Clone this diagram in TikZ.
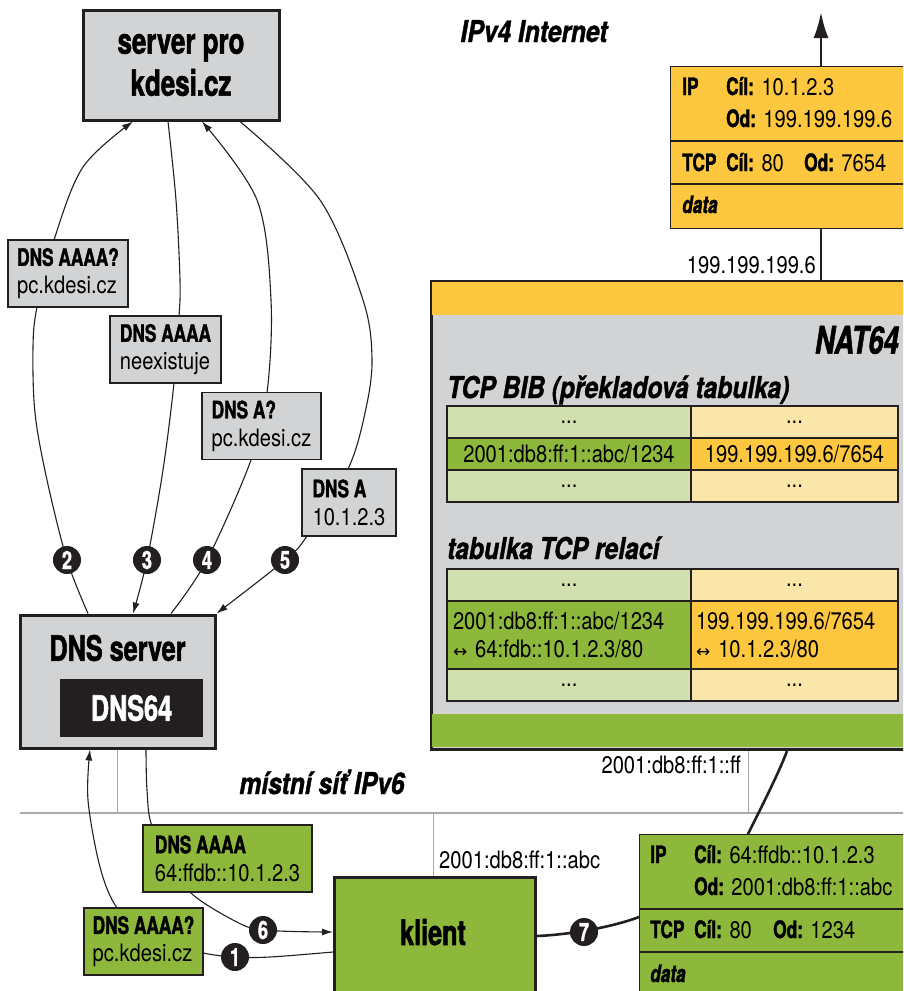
\documentclass[tikz,border=0pt]{standalone}
\usepackage{fontspec}
\setmainfont{TeX Gyre Heros}[FakeStretch=0.84]
\newfontfamily\cb{TeX Gyre Heros}[FakeStretch=0.72,FakeBold=1.5]
\newfontfamily\ci{TeX Gyre Heros}[FakeStretch=0.82,FakeBold=1.2]
\newfontfamily\symf{DejaVu Sans}
\usetikzlibrary{arrows.meta,calc}
\definecolor{dk}{HTML}{231F20}
\definecolor{gbox}{HTML}{D1D3D4}
\definecolor{yel}{HTML}{FDC840}
\definecolor{grn}{HTML}{8DB83B}
\definecolor{lgrn}{HTML}{D2DFAF}
\definecolor{lyel}{HTML}{FBE6A9}
\definecolor{netg}{HTML}{A7A9AC}
\newcommand\hb[1]{{\cb\bfseries #1}}
\newcommand\lrarr{{\symf\fontsize{17}{20}\selectfont ↔}}
\begin{document}
\begin{tikzpicture}[x=1pt,y=-1pt,
  box/.style={draw=dk, line width=3pt, inner sep=0pt},
  lbl/.style={draw=dk, line width=1.4pt, inner xsep=6pt, inner ysep=0pt, align=left, minimum height=67pt, font=\fontsize{24}{28}\selectfont},
  cell/.style={draw=dk, line width=1.4pt, inner sep=0pt, font=\fontsize{24}{28}\selectfont},
  num/.style={circle, fill=dk, text=white, minimum size=28pt, inner sep=0pt, font=\cb\bfseries\fontsize{25}{25}\selectfont},
  conn/.style={draw=dk, line width=1.1pt},
  arr/.style={conn, -{Latex[length=11pt,width=7pt]}},
  thick conn/.style={draw=dk, line width=2.6pt},
  txt/.style={inner sep=0pt, font=\fontsize{24}{28}\selectfont},
  head/.style={inner sep=0pt, font=\ci\bfseries\itshape\fontsize{30}{34}\selectfont},
  title/.style={inner sep=0pt, font=\cb\bfseries\fontsize{35}{42}\selectfont},
  pkt/.style={draw=dk, line width=1.4pt, inner sep=0pt, anchor=north west},
  gline/.style={draw=netg, line width=1pt},
]
\clip (0,0) rectangle (903,991);
\fill[white] (0,0) rectangle (903,991);

% network line
\coordinate (netL) at (20,812.5);
\coordinate (netR) at (903,812.5);
\draw[netg, line width=2pt] (netL) -- (netR);

% main boxes
\node[box, fill=gbox, minimum width=196pt, minimum height=110pt, align=center, font=\cb\bfseries\fontsize{36}{42}\selectfont] (srv) at (181,65) {server pro\\kdesi.cz};

\node[box, fill=gbox, minimum width=195pt, minimum height=133pt] (dns) at (117.5,681.5) {};
\node[title] (dnst) at (117.5,648) {DNS server};
\node[fill=dk, text=white, minimum width=143pt, minimum height=58pt, inner sep=0pt, font=\cb\bfseries\fontsize{35}{40}\selectfont] (dns64) at (131.5,708) {DNS64};

% NAT64 box
\node[box, fill=gbox, minimum width=520pt, minimum height=468pt, anchor=north west] (nat) at (430,280) {};
\fill[yel] (431.5,281.5) rectangle (950,315);
\fill[grn] (431.5,714) rectangle (950,746.5);
\node[inner sep=0pt, anchor=east, font=\cb\bfseries\itshape\fontsize{38}{42}\selectfont] (natt) at (899,340) {NAT64};
\node[head, anchor=base west] (bibh) at (447,398) {TCP BIB (překladová tabulka)};
\node[head, anchor=base west] (relh) at (447,559) {tabulka TCP relací};

% BIB table
\node[cell, fill=lgrn, minimum width=244pt, minimum height=32pt] (b11) at (569,422) {...};
\node[cell, fill=lyel, minimum width=207pt, minimum height=32pt] (b12) at (794.5,422) {...};
\node[cell, fill=grn, minimum width=244pt, minimum height=32pt] (b21) at (569,454) {2001:db8:ff:1::abc/1234};
\node[cell, fill=yel, minimum width=207pt, minimum height=32pt] (b22) at (794.5,454) {199.199.199.6/7654};
\node[cell, fill=lgrn, minimum width=244pt, minimum height=32pt] (b31) at (569,486) {...};
\node[cell, fill=lyel, minimum width=207pt, minimum height=32pt] (b32) at (794.5,486) {...};

% session table
\node[cell, fill=lgrn, minimum width=244pt, minimum height=32pt] (r11) at (569,585) {...};
\node[cell, fill=lyel, minimum width=207pt, minimum height=32pt] (r12) at (794.5,585) {...};
\node[cell, fill=grn, minimum width=244pt, minimum height=68pt, text width=232pt, inner xsep=6pt, align=left] (r21) at (569,635) {2001:db8:ff:1::abc/1234\\ \lrarr\ 64:fdb::10.1.2.3/80};
\node[cell, fill=yel, minimum width=207pt, minimum height=68pt, text width=197pt, inner xsep=5pt, align=left] (r22) at (794.5,635) {199.199.199.6/7654\\ \lrarr\ 10.1.2.3/80};
\node[cell, fill=lgrn, minimum width=244pt, minimum height=32pt] (r31) at (569,685) {...};
\node[cell, fill=lyel, minimum width=207pt, minimum height=32pt] (r32) at (794.5,685) {...};

% IPv4 packet
\node[pkt, fill=yel, minimum width=290pt, minimum height=162pt] (pk4) at (670,66) {};
\draw[dk, line width=1.4pt] (pk4.west |- 0,141) -- (950,141);
\draw[dk, line width=1.4pt] (pk4.west |- 0,184) -- (950,184);
\coordinate (up) at (821,12);
\draw[dk, line width=2.6pt, -{Latex[length=26pt,width=15pt]}] (821,0 |- pk4.north) -- (up);
\draw[thick conn] (821,0 |- pk4.south) -- (821,0 |- nat.north);
\node[txt, anchor=base east] (ip4) at (816,273) {199.199.199.6};
\node[txt, anchor=base west] at (682,95) {\hb{IP}};
\node[txt, anchor=base west] at (726,95) {\hb{Cíl:} 10.1.2.3};
\node[txt, anchor=base west] at (726,127) {\hb{Od:} 199.199.199.6};
\node[txt, anchor=base west] at (682,171) {\hb{TCP}};
\node[txt, anchor=base west] at (726,171) {\hb{Cíl:} 80};
\node[txt, anchor=base west] at (804,171) {\hb{Od:} 7654};
\node[txt, anchor=base west] at (682,213) {\cb\bfseries\itshape data};
\node[head, anchor=base] (inet) at (534,42) {IPv4 Internet};

% klient and IPv6 packet
\node[box, line width=2.6pt, fill=grn, minimum width=201pt, minimum height=140pt, anchor=north west] (kl) at (333,876) {};
\node[title, anchor=base] (klt) at (433,945) {klient};
\node[pkt, fill=grn, minimum width=300pt, minimum height=200pt] (pk6) at (639,834) {};
\draw[dk, line width=1.4pt] (pk6.west |- 0,909) -- (950,909);
\draw[dk, line width=1.4pt] (pk6.west |- 0,952) -- (950,952);
\node[txt, anchor=base west] at (650,863) {\hb{IP}};
\node[txt, anchor=base west] at (694,863) {\hb{Cíl:} 64:ffdb::10.1.2.3};
\node[txt, anchor=base west] at (694,895) {\hb{Od:} 2001:db8:ff:1::abc};
\node[txt, anchor=base west] at (650,938) {\hb{TCP}};
\node[txt, anchor=base west] at (694,938) {\hb{Cíl:} 80};
\node[txt, anchor=base west] at (773,938) {\hb{Od:} 1234};
\node[txt, anchor=base west] at (650,982) {\cb\bfseries\itshape data};

% thin network drops
\draw[gline] (117,0 |- dns.south) -- (117,0 |- netL);
\draw[gline] (748,0 |- nat.south) -- (748,0 |- netL);
\draw[gline] (433,0 |- netL) -- (433,0 |- kl.north);
\node[txt, anchor=base east] (ip6r) at (741,773) {2001:db8:ff:1::ff};
\node[txt, anchor=base west] (ip6k) at (439,868) {2001:db8:ff:1::abc};
\node[head, anchor=base] (lan) at (322,794) {místní síť IPv6};

% thick connectors
\draw[thick conn] (748,0 |- pk6.north) .. controls (765,800) and (780,770) .. (787,0 |- nat.south);
\draw[thick conn] (kl.east |- 0,936) .. controls (565,935) and (610,928) .. (pk6.west |- 0,917);

% DNS curves
\draw[arr] plot[smooth, tension=0.55] coordinates {(88,0 |- dns.north) (67,560) (47,480) (35,413) (33,347) (37,307) (54,240) (83,167) (133,0 |- srv.south)};
\draw[arr] plot[smooth, tension=0.55] coordinates {(168,0 |- srv.south) (176,200) (180,280) (179,317) (174,383) (163,470) (147,560) (133,0 |- dns.north)};
\draw[arr] plot[smooth, tension=0.55] coordinates {(171,0 |- dns.north) (207,560) (251,460) (267,393) (271,300) (257,200) (202,0 |- srv.south)};
\draw[arr] plot[smooth, tension=0.55] coordinates {(240,0 |- srv.south) (320,200) (363,300) (372,360) (365,413) (348,469) (307,536) (285,560) (dns.north east)};
\draw[arr] plot[smooth, tension=0.55] coordinates {(kl.west |- 0,952) (270,957) (235,957) (203,953) (150,940) (117,908) (100,867) (88,800) (90,0 |- dns.south)};
\draw[arr] plot[smooth, tension=0.55] coordinates {(146,0 |- dns.south) (147,790) (152,826) (175,860) (190,892) (233,920) (263,930) (kl.west |- 0,932)};

% labels
\node[lbl, fill=gbox, minimum width=120pt] (q1) at (68,273.5) {\hb{DNS AAAA?}\\pc.kdesi.cz};
\node[lbl, fill=gbox, minimum width=111pt] (q2) at (165.5,349.5) {\hb{DNS AAAA}\\neexistuje};
\node[lbl, fill=gbox, minimum width=119pt] (q3) at (261.5,426) {\hb{DNS A?}\\pc.kdesi.cz};
\node[lbl, fill=gbox, minimum width=94pt] (q4) at (349,502.5) {\hb{DNS A}\\10.1.2.3};
\node[lbl, fill=grn, minimum width=169pt] (g1) at (227.5,858.5) {\hb{DNS AAAA}\\64:ffdb::10.1.2.3};
\node[lbl, fill=grn, minimum width=119pt] (g2) at (143.5,941.5) {\hb{DNS AAAA?}\\pc.kdesi.cz};

% step numbers
\node[num] (n1) at (235,957) {1};
\node[num] (n2) at (67,560) {2};
\node[num] (n3) at (147,560) {3};
\node[num] (n4) at (207,560) {4};
\node[num] (n5) at (285,560) {5};
\node[num] (n6) at (263,930) {6};
\node[num] (n7) at (584,932) {7};
\end{tikzpicture}
\end{document}
